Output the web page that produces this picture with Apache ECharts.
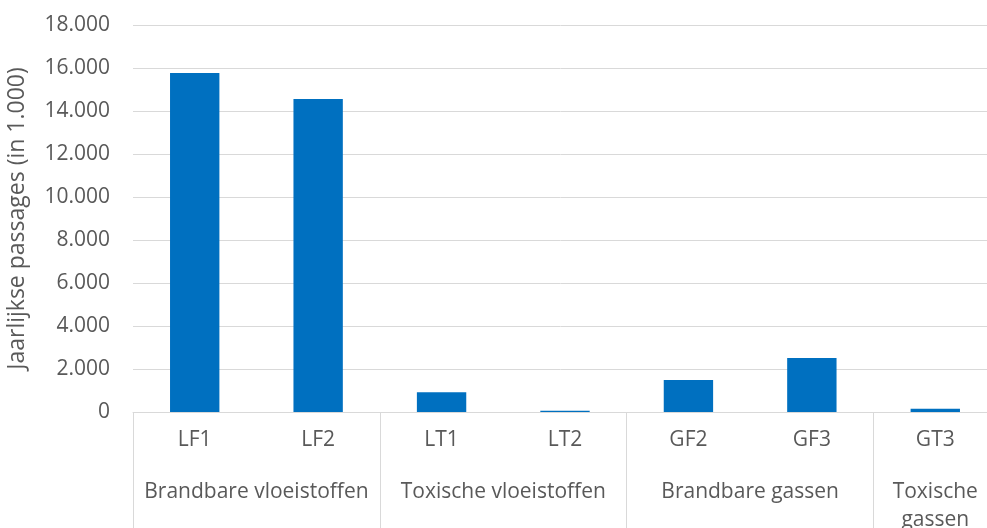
<!DOCTYPE html>
<html>
<head>
<meta charset="utf-8">
<script src="https://cdn.jsdelivr.net/npm/echarts@6/dist/echarts.min.js"></script>
<style>
  html, body { margin: 0; padding: 0; background: #fff; }
  #main { width: 987px; height: 528px; }
</style>
</head>
<body>
<div id="main"></div>
<script>
// data
var categories = ['LF1', 'LF2', 'LT1', 'LT2', 'GF2', 'GF3', 'GT3'];
var passages = [15770, 14560, 920, 60, 1490, 2510, 150];
var groupNames = ['Brandbare vloeistoffen', 'Toxische vloeistoffen', 'Brandbare gassen', 'Toxische\ngassen'];
var groupSizes = [2, 2, 2, 1];
var yTicks = [0, 2000, 4000, 6000, 8000, 10000, 12000, 14000, 16000, 18000];

// group boundaries + centres on a 0..n scale
var bounds = [0], centres = [];
groupSizes.forEach(function (s, i) {
    var start = bounds[i];
    bounds.push(start + s);
    centres.push(start + s / 2);
});

var txt = '#595959';
var line = '#d9d9d9';
var font = 'Open Sans';

var chart = echarts.init(document.getElementById('main'));
chart.setOption({
    animation: false,
    grid: { left: 133, top: 25, width: 864, bottom: 116, containLabel: false, outerBoundsMode: 'none' },
    xAxis: [{
        type: 'category',
        data: categories,
        position: 'bottom',
        axisLine: { lineStyle: { color: line, width: 1 } },
        axisTick: { show: false },
        axisLabel: { color: txt, fontFamily: font, fontSize: 21, margin: 18 }
    }, {
        type: 'value',
        min: 0,
        max: categories.length,
        interval: 1,
        position: 'bottom',
        axisLine: { show: false },
        splitLine: { show: false },
        axisTick: {
            show: true,
            customValues: bounds,
            length: 120,
            lineStyle: { color: line, width: 1 }
        },
        axisLabel: {
            customValues: centres,
            color: txt, fontFamily: font, fontSize: 21,
            margin: 66, lineHeight: 28, align: 'center',
            formatter: function (v) {
                var i = centres.indexOf(v);
                return i >= 0 ? groupNames[i] : '';
            }
        }
    }],
    yAxis: {
        type: 'value',
        min: yTicks[0],
        max: yTicks[yTicks.length - 1],
        interval: yTicks[1] - yTicks[0],
        name: 'Jaarlijkse passages (in 1.000)',
        nameLocation: 'middle',
        nameGap: 104,
        nameTextStyle: { color: txt, fontFamily: font, fontSize: 23 },
        axisLine: { show: false },
        axisTick: { show: false },
        splitLine: { lineStyle: { color: line, width: 1 } },
        axisLabel: {
            color: txt, fontFamily: font, fontSize: 21, margin: 23,
            formatter: function (v) {
                return v === 0 ? '0' : String(v).replace(/(\d)(?=(\d{3})+$)/g, '$1.');
            }
        }
    },
    series: [{
        type: 'bar',
        data: passages,
        barWidth: '40%',
        itemStyle: { color: '#0070c0' }
    }]
});
</script>
</body>
</html>
